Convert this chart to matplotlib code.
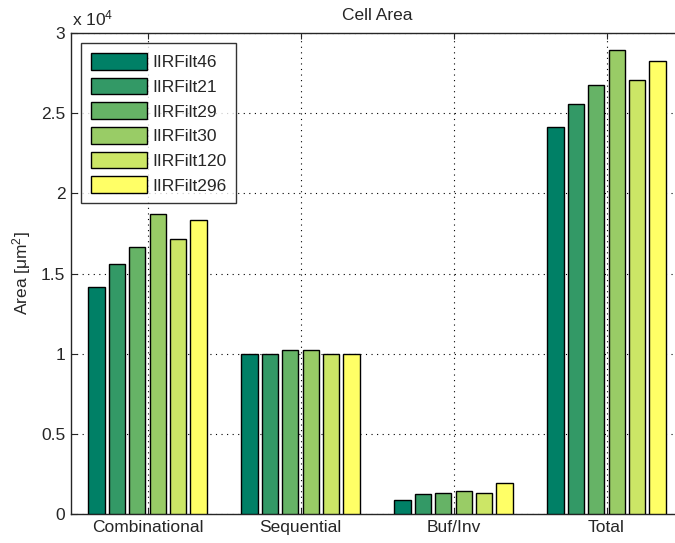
import numpy as np
import matplotlib
matplotlib.use("Agg")
import matplotlib.pyplot as plt
from matplotlib.ticker import FuncFormatter, MultipleLocator

plt.rcParams['font.family'] = ['Liberation Sans', 'DejaVu Sans']
plt.rcParams['mathtext.default'] = 'regular'

GROUPS = ["Combinational", "Sequential", "Buf/Inv", "Total"]
FILTERS = ["IIRFilt46", "IIRFilt21", "IIRFilt29", "IIRFilt30", "IIRFilt120", "IIRFilt296"]

# area per group, one list per filter
iirfilt46 = [14180, 10000, 870, 24160]
iirfilt21 = [15570, 10000, 1230, 25560]
iirfilt29 = [16640, 10230, 1330, 26760]
iirfilt30 = [18730, 10230, 1415, 28950]
iirfilt120 = [17170, 10000, 1310, 27060]
iirfilt296 = [18320, 10000, 1950, 28260]

series = [iirfilt46, iirfilt21, iirfilt29, iirfilt30, iirfilt120, iirfilt296]

# matlab "summer" colormap, 6 entries
colors = [(r, 0.5 + r / 2, 0.4) for r in np.linspace(0, 1, 6)]

FS = 12.5

fig = plt.figure(figsize=(6.75, 5.43), dpi=100)
ax = fig.add_axes([71 / 675, 29 / 543, 612 / 675, 481 / 543])

x = np.arange(1, len(GROUPS) + 1)
slot = 0.8 / len(series)
for i, (vals, name) in enumerate(zip(series, FILTERS)):
    off = (i - (len(series) - 1) / 2) * slot
    ax.bar(x + off, vals, width=slot * 0.8, color=colors[i], edgecolor='black',
           linewidth=1.0, label=name, zorder=3)

ax.set_xlim(0.5, 4.5)
ax.set_ylim(0, 30000)
ax.set_xticks(x)
ax.set_xticklabels(GROUPS)
ax.yaxis.set_major_locator(MultipleLocator(5000))
ax.yaxis.set_major_formatter(FuncFormatter(lambda v, p: f"{v / 1e4:g}"))
ax.tick_params(direction='in', length=4, top=True, right=False, labelsize=FS,
               pad=4, colors='#262626', labelcolor='#262626')
ax.grid(True, linestyle=(0, (1, 4)), color='black', linewidth=0.8, zorder=0)
ax.set_axisbelow(True)
for s in ax.spines.values():
    s.set_linewidth(1.0)
    s.set_color('#262626')
# right edge of the axes falls outside the canvas in the original
ax.spines['right'].set_visible(False)

ax.set_title("Cell Area", fontsize=FS, pad=9, color='#262626')
ax.set_ylabel("Area [$\\mu$m$^2$]", fontsize=FS, labelpad=6, color='#262626')
fig.text(72 / 675, 1 - 25 / 543, "x 10$^4$", fontsize=FS, ha='left',
         va='baseline', color='#262626')

leg = ax.legend(loc='upper left', fontsize=FS, frameon=True, fancybox=False,
                edgecolor='black', handlelength=3.2, handleheight=1.1,
                labelspacing=0.43, borderaxespad=0.6, handletextpad=0.35,
                borderpad=0.55)
leg.get_frame().set_linewidth(1.0)
for t in leg.get_texts():
    t.set_color('#262626')

fig.savefig("out.png", dpi=100)
